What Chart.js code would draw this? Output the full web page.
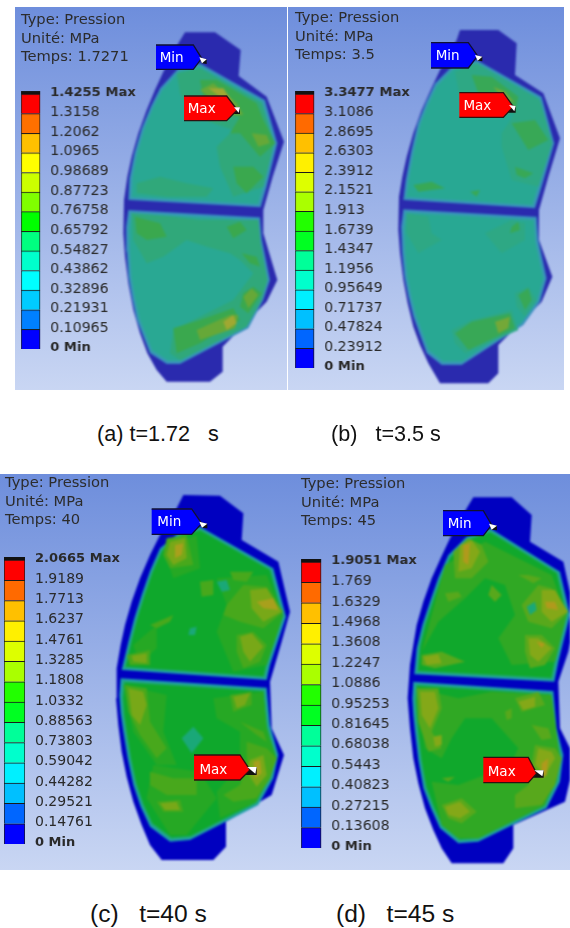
<!DOCTYPE html>
<html lang="fr"><head><meta charset="utf-8">
<script src="https://cdn.jsdelivr.net/npm/chart.js@4"></script>
<style>
html,body{margin:0;padding:0;background:#fff;width:570px;height:928px;overflow:hidden}
.bg{position:absolute;background:linear-gradient(#6e8edc,#c9d6f3)}
canvas{position:absolute}
canvas.pn{filter:blur(.8px)}
canvas.cl{filter:blur(.35px)}
canvas.lg{filter:blur(.35px)}
.hdr{position:absolute;font:14.7px/18.6px "DejaVu Sans",sans-serif;color:#2c2c2c;white-space:pre;filter:blur(.35px)}
.cap{position:absolute;font:21.6px "Liberation Sans",Arial,sans-serif;color:#111;white-space:pre}
.capL{font-size:24.6px}
</style></head><body>
<script>
// ---------- legend values (top to bottom) ----------
const legendA=["1.4255 Max","1.3158","1.2062","1.0965","0.98689","0.87723","0.76758","0.65792","0.54827","0.43862","0.32896","0.21931","0.10965","0 Min"];
const legendB=["3.3477 Max","3.1086","2.8695","2.6303","2.3912","2.1521","1.913","1.6739","1.4347","1.1956","0.95649","0.71737","0.47824","0.23912","0 Min"];
const legendC=["2.0665 Max","1.9189","1.7713","1.6237","1.4761","1.3285","1.1808","1.0332","0.88563","0.73803","0.59042","0.44282","0.29521","0.14761","0 Min"];
const legendD=["1.9051 Max","1.769","1.6329","1.4968","1.3608","1.2247","1.0886","0.95253","0.81645","0.68038","0.5443","0.40823","0.27215","0.13608","0 Min"];
const cells14=["#ff0000","#ff6a00","#ffc000","#fff000","#ddff00","#aaff00","#22ff00","#00ff22","#00ff99","#00ffcc","#00f0ff","#00c0ff","#0066ff","#0000ff"];
const cells13=["#ff0000","#ff7000","#ffc000","#ffff00","#ccff00","#80ff00","#00ff00","#00ff80","#00ffcc","#00ffff","#00ccff","#0080ff","#0000ff"];
const headers=[["Type: Pression","Unité: MPa","Temps: 1.7271"],["Type: Pression","Unité: MPa","Temps: 3.5"],["Type: Pression","Unité: MPa","Temps: 40"],["Type: Pression","Unité: MPa","Temps: 45"]];
const captions=["(a) t=1.72   s","(b)   t=3.5 s","(c)   t=40 s","(d)   t=45 s"];

// ---------- traced outlines, panel A ----------
const plateA=[[555,97],[645,97],[722,150],[716,228],[800,290],[852,425],[818,530],[790,630],[790,700],[832,840],[800,905],[668,1040],[668,1115],[630,1145],[500,1145],[470,1110],[442,1060],[420,1000],[400,930],[385,850],[375,770],[370,700],[372,600],[382,530],[395,470],[415,400],[440,330],[465,270],[490,215],[535,130]];
const padA=[[[600,190],[795,300],[832,430],[800,560],[782,622],[385,600],[388,535],[403,460],[425,385],[452,320],[480,265],[535,205]],[[385,630],[780,652],[786,720],[810,840],[790,900],[745,985],[540,1092],[500,1092],[450,1060],[410,960],[396,895],[385,830],[380,755],[378,680]]];
const a1=[[[530,220],[600,205],[785,310],[822,430],[790,560],[700,590],[660,500],[650,440],[700,390],[640,370],[570,340],[540,280]],[[410,550],[480,530],[560,550],[640,565],[620,590],[500,590],[410,580]],[[395,640],[520,650],[600,660],[775,660],[782,730],[802,840],[785,900],[740,980],[540,1080],[510,1060],[520,990],[600,950],[700,900],[730,860],[760,820],[720,780],[690,760],[620,740],[560,720],[490,770],[440,790],[400,720]]];
const a2=[[[600,240],[650,240],[770,310],[790,360],[826,430],[780,470],[720,400],[690,400],[720,350],[650,340],[610,290]],[[700,500],[760,500],[790,530],[740,580],[710,550]],[[405,650],[480,670],[500,710],[440,720],[410,700]],[[680,680],[720,665],[740,690],[700,715]],[[725,760],[770,770],[780,800],[750,790]],[[730,880],[760,860],[785,880],[745,940],[720,920]],[[520,985],[600,960],[700,925],[720,960],[600,1030],[530,1060]]];
const a3=[[[600,270],[640,250],[710,310],[730,345],[680,345],[640,300]],[[755,400],[800,405],[810,430],[775,440]],[[590,990],[690,945],[715,945],[705,985],[600,1020]],[[730,890],[755,865],[775,885],[745,925]]];
const a4=[[[625,265],[670,265],[700,310],[660,290]],[[670,965],[700,945],[710,970],[680,990]]];
const calloutsA={min:[[468,135],[580,135],[605,175],[580,208],[468,208]],max:[[552,288],[680,288],[712,330],[680,362],[552,362]],minTip:[[598,172],[620,178],[620,192],[606,190]],maxTip:[[702,322],[720,322],[720,342],[695,342]],minText:[515,175],maxText:[605,327]};

// ---------- traced outlines, panel B ----------
const plateB=[[525,90],[640,90],[695,130],[690,225],[775,280],[825,415],[790,530],[762,630],[762,720],[802,830],[770,905],[640,1035],[640,1120],[610,1150],[465,1150],[430,1090],[405,1035],[385,980],[368,910],[355,840],[345,760],[340,690],[342,590],[352,530],[365,470],[385,400],[410,330],[437,270],[465,210],[515,120]];
const padB=[[[575,180],[770,290],[808,430],[770,560],[750,625],[355,600],[362,540],[378,455],[398,370],[423,307],[450,250],[505,195]],[[355,628],[755,650],[760,720],[785,835],[765,905],[715,975],[530,1095],[470,1095],[425,1060],[385,950],[370,890],[358,830],[351,755],[348,680]]];
const b1=[[[510,215],[575,190],[765,300],[802,430],[760,560],[680,540],[650,440],[650,400],[690,340],[600,350],[530,320]],[[365,640],[430,650],[440,700],[470,720],[400,760],[365,700]],[[600,700],[680,660],[720,670],[720,720],[650,760]],[[500,990],[560,960],[680,930],[700,990],[540,1060],[510,1030]],[[690,880],[730,860],[755,900],[720,950],[695,920]]];
const b2=[[[560,225],[620,230],[700,290],[690,340],[640,300],[580,280]],[[680,370],[750,360],[790,420],[730,450]],[[680,680],[700,665],[705,690],[675,700]],[[510,1000],[560,965],[675,940],[690,985],[550,1050]],[[700,885],[730,865],[740,900],[720,930]],[[690,500],[745,520],[720,535],[695,525]],[[385,555],[440,545],[480,565],[400,575]],[[555,575],[585,570],[575,590]]];
const b3=[[[625,260],[660,275],[690,310],[650,290]],[[630,965],[675,950],[670,985],[640,1000]]];
const b4=[];
const calloutsB={min:[[438,128],[550,128],[578,168],[550,204],[438,204]],max:[[523,278],[655,278],[685,320],[655,352],[523,352]],minTip:[[570,165],[592,170],[592,184],[578,182]],maxTip:[[672,315],[692,318],[692,338],[665,338]],minText:[488,170],maxText:[577,320]};

// ---------- traced outlines, panel C ----------
const plateC=[[550,90],[660,92],[730,145],[725,225],[835,290],[870,440],[845,530],[810,650],[815,790],[852,870],[815,990],[678,1070],[678,1145],[640,1185],[485,1185],[450,1140],[425,1080],[400,1010],[380,935],[365,860],[355,780],[348,700],[350,610],[362,540],[375,480],[395,410],[420,340],[450,270],[480,210],[530,130]];
const padC=[[[600,185],[820,310],[858,455],[810,600],[800,645],[365,615],[385,530],[403,460],[425,390],[450,318],[480,250],[540,200]],[[362,640],[800,668],[810,780],[835,870],[820,940],[775,1020],[570,1125],[510,1130],[450,1085],[422,1025],[400,960],[383,880],[370,800],[362,745],[358,690]]];
const c0=[[[650,340],[800,330],[850,450],[800,600],[700,620],[650,500],[680,420]],[[400,540],[470,480],[470,550],[420,600]],[[490,250],[590,210],[600,310],[520,340]],[[370,660],[500,690],[490,800],[530,900],[470,900],[400,800]],[[460,900],[600,920],[650,1000],[560,1110],[510,1110],[440,1000]],[[640,700],[790,680],[800,790],[830,880],[770,1010],[660,1060],[650,980],[720,900],[720,800],[650,760]]];
const c1=[[[500,220],[560,210],[580,300],[510,310],[490,270]],[[690,320],[760,320],[740,350],[700,345]],[[680,420],[730,360],[800,365],[850,440],[790,490],[720,470],[670,450]],[[710,510],[760,500],[800,540],[780,590],[730,610],[710,560]],[[380,570],[450,555],[450,600],[390,600]],[[600,350],[640,345],[640,390],[605,395]],[[450,480],[520,450],[510,470],[470,490]],[[375,660],[440,670],[450,770],[500,850],[470,880],[420,810],[385,740]],[[690,690],[755,680],[755,720],[700,740]],[[720,770],[790,800],[800,830],[770,810]],[[740,830],[800,850],[830,880],[810,940],[770,1000],[700,1010],[670,990],[720,960],[740,900]],[[470,1010],[540,1005],[550,1040],[490,1040]],[[450,920],[520,940],[590,940],[590,990],[500,990],[450,960]]];
const c2=[[[510,230],[555,220],[560,280],[520,300],[500,270]],[[750,375],[800,370],[845,440],[790,470],[755,430]],[[720,515],[755,505],[790,545],[750,590],[730,560]],[[395,572],[440,565],[440,595],[400,590]],[[385,670],[430,680],[440,720],[420,780],[395,750]],[[700,695],[750,685],[735,720],[710,730]],[[480,1015],[530,1010],[540,1035],[495,1035]],[[750,885],[790,870],[800,930],[770,965],[740,920]]];
const c3=[[[770,410],[820,400],[835,435],[790,430]],[[760,890],[780,885],[785,925],[765,940]],[[525,240],[550,235],[545,270],[525,280]]];
const cLow=[[[570,490],[590,485],[585,510],[565,510]],[[650,350],[680,345],[690,375],[665,380]],[[545,820],[580,785],[610,820],[575,865]]];
const calloutsC={min:[[455,132],[575,132],[605,175],[575,208],[455,208]],max:[[582,870],[720,870],[750,915],[720,945],[582,945]],minTip:[[598,170],[622,176],[622,190],[606,188]],maxTip:[[742,906],[770,906],[770,930],[735,930]],minText:[508,173],maxText:[640,915]};

// ---------- traced outlines, panel D ----------
const plateD=[[565,97],[680,97],[740,150],[735,230],[835,290],[870,450],[850,560],[820,650],[825,790],[870,880],[840,1010],[685,1080],[685,1150],[655,1195],[500,1195],[470,1150],[445,1095],[420,1030],[400,955],[385,880],[375,790],[368,700],[375,600],[385,540],[395,480],[415,410],[440,340],[467,280],[495,220],[545,130]];
const padD=[[[615,190],[825,320],[855,450],[820,590],[808,650],[388,628],[395,550],[412,480],[435,410],[460,338],[490,270],[545,215]],[[385,650],[805,678],[815,790],[835,870],[825,950],[785,1030],[580,1130],[520,1135],[465,1090],[438,1030],[415,970],[400,885],[390,800],[385,750],[382,700]]];
const d0=[[[480,300],[600,230],[800,330],[845,450],[810,590],[680,600],[640,520],[690,450],[660,360],[600,340],[540,400],[460,470],[410,560],[400,600]],[[395,670],[520,700],[620,680],[800,690],[825,880],[780,1020],[580,1120],[520,1120],[470,1080],[440,950],[520,960],[600,930],[650,950],[700,850],[620,760],[540,760],[500,820],[470,880],[420,850]]];
const d1=[[[505,260],[550,220],[590,240],[610,290],[560,340],[510,340]],[[480,385],[520,380],[530,395],[490,410]],[[700,330],[730,330],[770,340],[745,355]],[[710,420],[760,360],[800,370],[850,440],[800,490],[730,470]],[[720,510],[770,510],[810,550],[780,600],[735,610],[720,560]],[[410,570],[470,560],[540,590],[450,610],[410,600]],[[620,360],[650,390],[630,410],[610,390]],[[395,670],[460,670],[470,730],[440,800],[470,850],[430,860],[400,770]],[[690,700],[760,680],[780,720],[710,740]],[[740,780],[790,790],[800,820],[770,825]],[[660,740],[680,730],[680,760],[665,765]],[[750,840],[810,850],[830,880],[810,960],[770,1020],[690,1030],[690,990],[730,960],[740,900]],[[470,1020],[530,1000],[575,1040],[530,1075],[490,1060]],[[470,940],[510,935],[490,950]]];
const d2=[[[525,240],[560,225],[585,260],[560,310],[520,320]],[[770,375],[810,375],[848,440],[800,470],[770,440]],[[730,520],[760,520],[800,550],[760,590],[735,570]],[[415,575],[460,568],[470,595],[425,600]],[[405,680],[450,680],[460,730],[435,790],[410,750]],[[700,710],[750,695],[750,725],[715,735]],[[760,850],[800,860],[810,880],[780,930],[750,900]],[[480,1025],[525,1010],[555,1040],[525,1060],[490,1050]],[[445,815],[470,810],[470,840],[450,845]]];
const d3=[[[535,240],[555,235],[550,300],[535,290]],[[780,410],[810,410],[820,435],[785,430]],[[755,530],[780,535],[770,550]],[[770,895],[790,880],[785,930],[770,940]]];
const dLow=[[[725,425],[750,410],[755,435],[735,450]]];
const calloutsD={min:[[474,137],[595,137],[620,180],[595,212],[474,212]],max:[[595,877],[730,877],[755,925],[730,953],[595,953]],minTip:[[612,176],[636,182],[636,196],[620,194]],maxTip:[[748,916],[776,916],[776,938],[740,938]],minText:[524,178],maxText:[650,923]};

const xy=p=>p.map(([x,y])=>({x,y}));
function poly(pts,fill,extra){return Object.assign({data:xy(pts),showLine:true,pointRadius:0,tension:0,fill:'shape',backgroundColor:fill,borderWidth:0},extra||{});}
function shrink(q,f){const xs=q.map(p=>p[0]),ys=q.map(p=>p[1]);const cx=(Math.min(...xs)+Math.max(...xs))/2,cy=(Math.min(...ys)+Math.max(...ys))/2;return q.map(([x,y])=>[cx+(x-cx)*f,cy+(y-cy)*f]);}

const textPlugin={id:'calloutText',afterDatasetsDraw(ch,a,o){
  if(!o.c)return;
  const c=ch.ctx,sx=ch.scales.x,sy=ch.scales.y;c.save();c.fillStyle='#fff';c.font='13.5px "DejaVu Sans"';c.textAlign='center';c.textBaseline='middle';
  c.fillText('Min',sx.getPixelForValue(o.c.minText[0]),sy.getPixelForValue(o.c.minText[1]));
  c.fillText('Max',sx.getPixelForValue(o.c.maxText[0]),sy.getPixelForValue(o.c.maxText[1]));c.restore();}};

function layer(cls,left,top,w,h,ds,cc){
  const cv=document.createElement('canvas');cv.className=cls;cv.width=w;cv.height=h;cv.style.cssText=`left:${left}px;top:${top}px;width:${w}px;height:${h}px`;document.body.appendChild(cv);
  ds.forEach((d,i)=>d.order=ds.length-i);
  new Chart(cv,{type:'scatter',data:{datasets:ds},plugins:[textPlugin],options:{responsive:false,animation:false,devicePixelRatio:1,layout:{padding:0},
    plugins:{legend:{display:false},tooltip:{enabled:false},calloutText:{c:cc}},
    scales:{x:{display:false,min:0,max:w*3},y:{display:false,min:0,max:h*3,reverse:true}}}});
}
function panel(left,top,w,h,p){
  const ds=[poly(p.plate,p.plateColor)];
  p.pads.forEach(q=>{ds.push(poly(q,p.edge[0]),poly(shrink(q,.975),p.edge[1]),poly(shrink(q,.95),p.base));});
  p.layers.forEach(([set,col])=>set.forEach(q=>ds.push(poly(q,col))));
  layer('pn',left,top,w,h,ds,null);
}
function callouts(left,top,w,h,cc){
  const ds=[poly(cc.minTip,'#111'),poly(cc.maxTip,'#111'),
    poly(cc.min,'#0000ff',{borderWidth:1.3,borderColor:'#101030'}),poly(cc.max,'#ff0000',{borderWidth:1.3,borderColor:'#301010'}),
    poly([cc.minTip[0],cc.minTip[1],cc.minTip[3]],'#fff'),poly([cc.maxTip[0],cc.maxTip[1],[cc.maxTip[2][0]-4,cc.maxTip[2][1]-4]],'#fff')];
  layer('cl',left,top,w,h,ds,cc);
}
function legendBar(left,top,barW,height,labels,colors){
  const pad=16,W=110,capH=3;
  const cv=document.createElement('canvas');cv.className='lg';const cw=barW+2+W,chh=height+2*pad;cv.width=cw;cv.height=chh;cv.style.cssText=`left:${left-1}px;top:${top-pad}px;width:${cw}px;height:${chh}px`;document.body.appendChild(cv);
  const vals=labels.map(parseFloat).reverse();
  const rev=colors.slice().reverse();
  const ds=rev.map((col,i)=>({data:[vals[i+1]-vals[i]],backgroundColor:col,borderColor:'#1a1a1a',borderWidth:1,barPercentage:1,categoryPercentage:1}));
  const top0=vals[vals.length-1],capV=top0*capH/height;
  ds.push({data:[capV],backgroundColor:'#111',borderWidth:0,barPercentage:1,categoryPercentage:1});
  new Chart(cv,{type:'bar',data:{labels:[''],datasets:ds},options:{responsive:false,animation:false,devicePixelRatio:1,
    layout:{padding:{top:pad-capH,bottom:pad,left:1,right:0}},
    plugins:{legend:{display:false},tooltip:{enabled:false}},
    scales:{x:{display:false,stacked:true},
      y:{position:'right',stacked:true,min:0,max:top0+capV,grid:{display:false},border:{display:false},
        afterFit(s){s.width=W;},
        afterBuildTicks(s){s.ticks=vals.map(v=>({value:v}));},
        ticks:{autoSkip:false,padding:2,labelOffset:-1,color:'#2a2a2a',
          callback(v){return labels[labels.map(parseFloat).indexOf(v)];},
          font(c){const t=c.tick&&c.tick.label||'';return {family:'"DejaVu Sans"',size:/M/.test(t)?13:14,weight:/M/.test(t)?'bold':'normal'};}}}}}});
}
function bg(l,t,w,h){const d=document.createElement('div');d.className='bg';d.style.cssText=`left:${l}px;top:${t}px;width:${w}px;height:${h}px`;document.body.appendChild(d);}
function txt(cls,l,t,s){const d=document.createElement('div');d.className=cls;d.style.left=l+'px';d.style.top=t+'px';d.textContent=s;document.body.appendChild(d);}

bg(15,7,272,383);bg(288,7,276,383);bg(0,474,570,396);

const blueA='#2a2aae',blueC='#0000c0';
panel(0,0,290,400,{plate:plateA,plateColor:blueA,pads:padA,base:'#29a893',edge:['#3a8cc0','#33a0aa'],layers:[[a1,'#30a87a'],[a2,'#3aa84e'],[a3,'#66a838'],[a4,'#a0a832']]});
panel(285,0,285,400,{plate:plateB,plateColor:blueA,pads:padB,base:'#28a893',edge:['#3a8cc0','#33a0aa'],layers:[[b1,'#2ea884'],[b2,'#38a856'],[b3,'#74a838'],[b4,'#a0a832']]});
panel(0,465,300,410,{plate:plateC,plateColor:blueC,pads:padC,base:'#0fa82c',edge:['#1f9cb0','#20a878'],layers:[[c0,'#26a824'],[c1,'#48a81c'],[c2,'#78a818'],[c3,'#a8a01c'],[cLow,'#1aa878']]});
panel(285,465,285,410,{plate:plateD,plateColor:blueC,pads:padD,base:'#10a82c',edge:['#1f9cb0','#20a878'],layers:[[d0,'#30a824'],[d1,'#58a81c'],[d2,'#84a818'],[d3,'#b09a1c'],[dLow,'#1aa878']]});
callouts(0,0,290,400,calloutsA);
callouts(285,0,285,400,calloutsB);
callouts(0,465,300,410,calloutsC);
callouts(285,465,285,410,calloutsD);

legendBar(21,93.5,18.5,255.5,legendA,cells13);
legendBar(295,94,18.5,274,legendB,cells14);
legendBar(4,560,20,284,legendC,cells14);
legendBar(301,562,19.5,286,legendD,cells14);

[[21,10],[295,8],[5,473],[301,474]].forEach(([l,t],i)=>txt('hdr',l,t,headers[i].join('\n')));
[[97,421],[331,421]].forEach(([l,t],i)=>txt('cap',l,t,captions[i]));
[[90,900],[336,900]].forEach(([l,t],i)=>txt('cap capL',l,t,captions[i+2]));
</script>
</body></html>
